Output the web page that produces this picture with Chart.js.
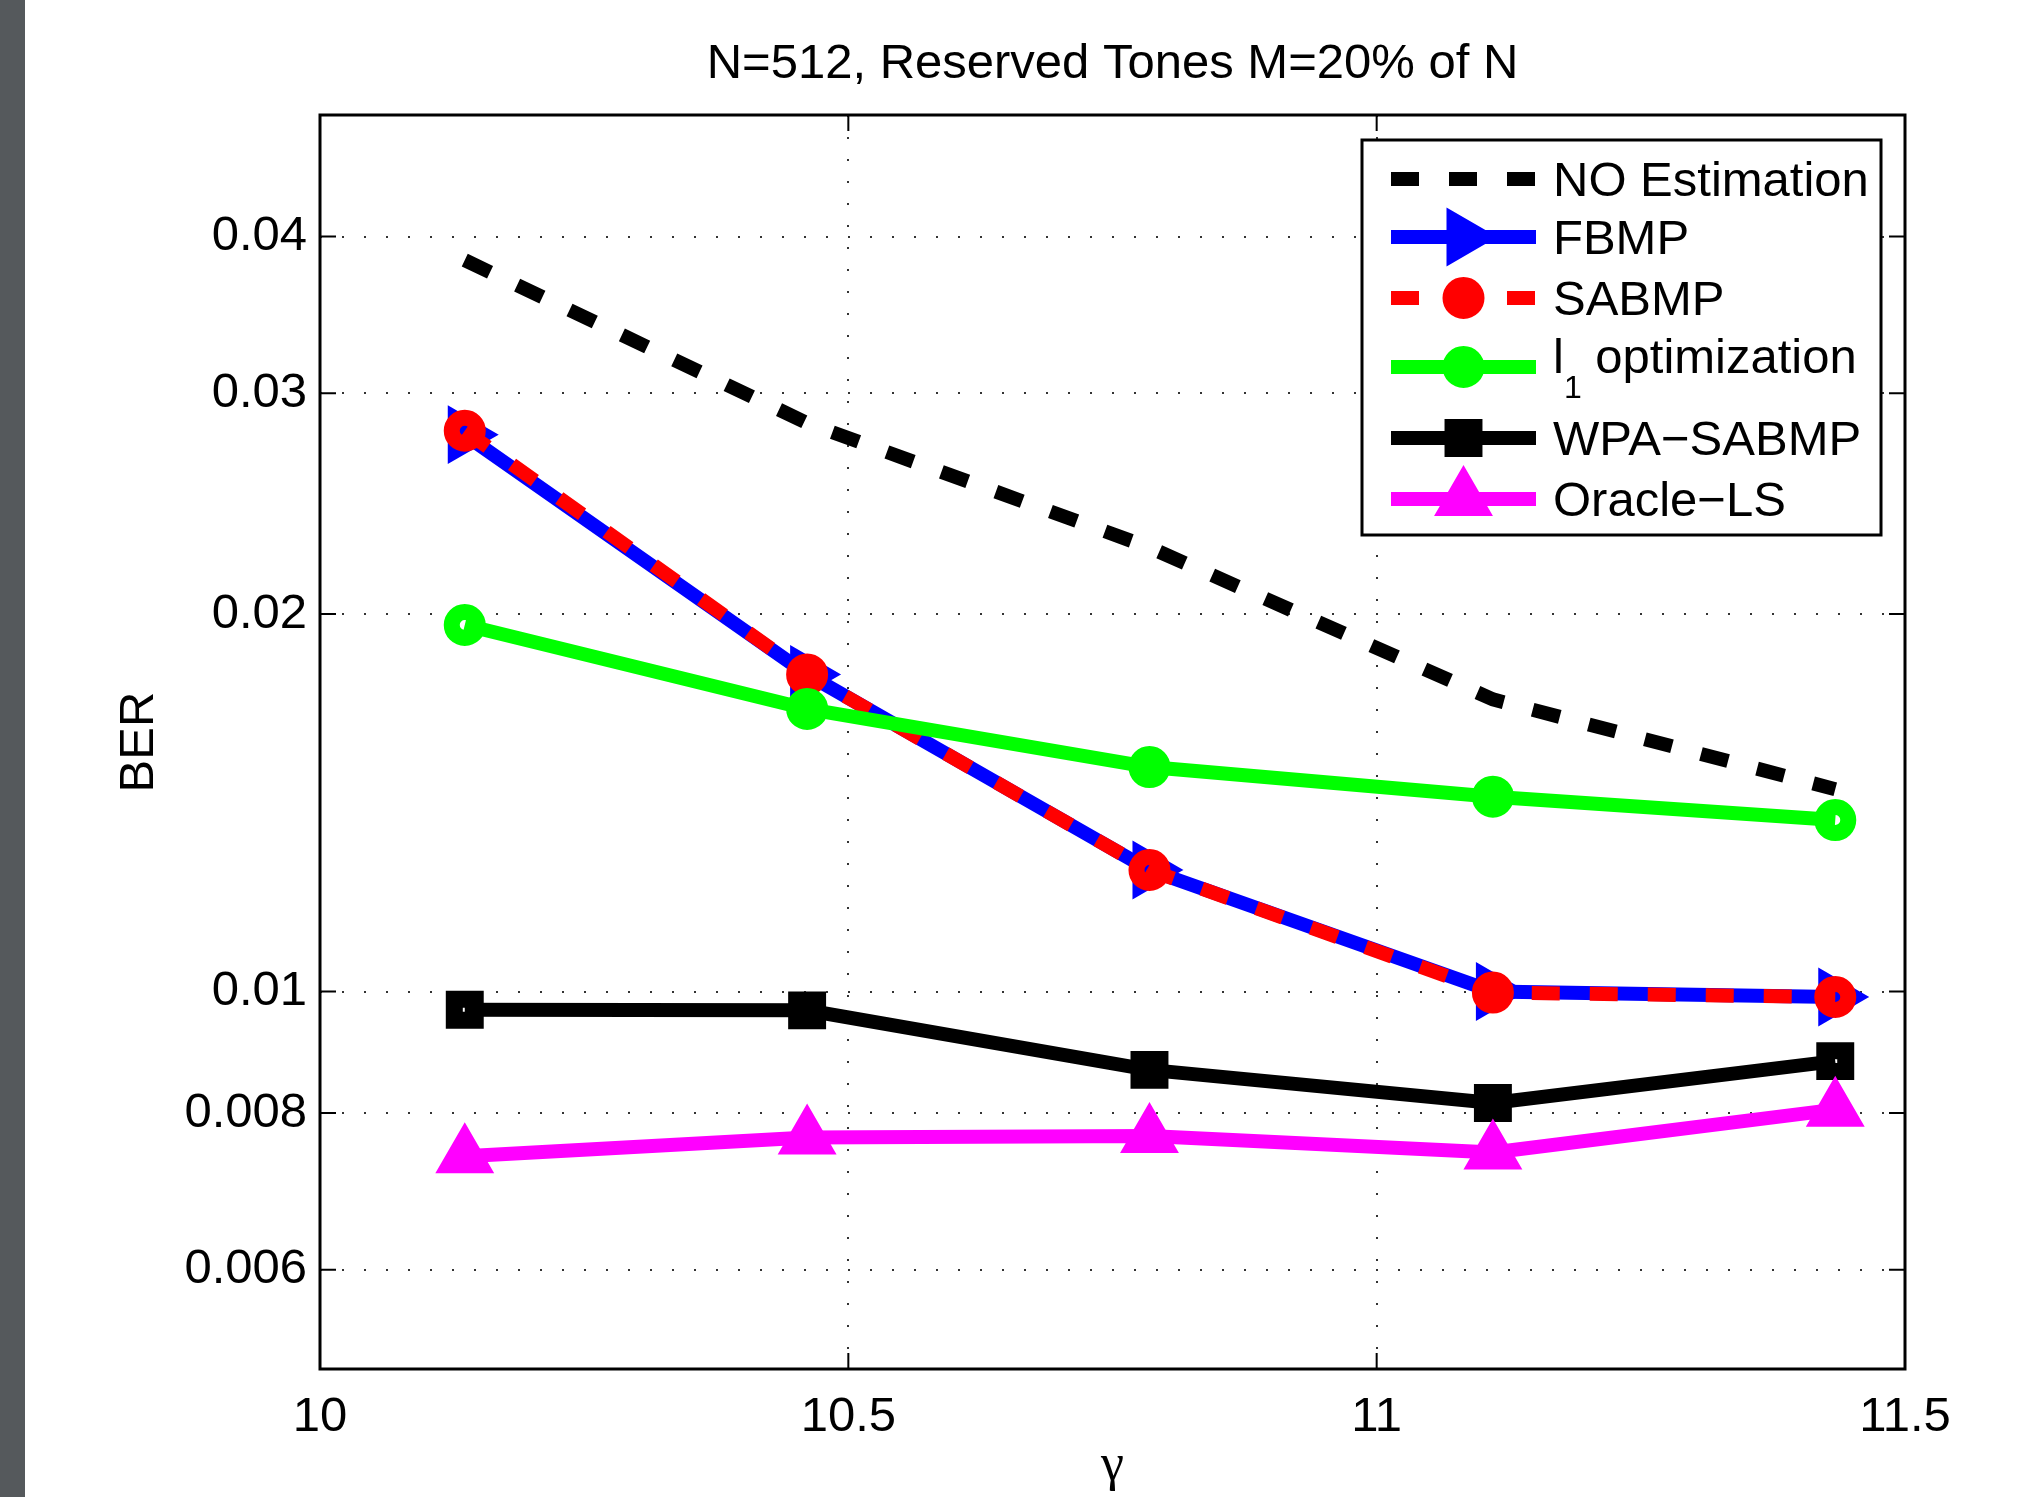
<!DOCTYPE html>
<html>
<head>
<meta charset="utf-8">
<script src="https://cdn.jsdelivr.net/npm/chart.js@4.4.1/dist/chart.umd.min.js"></script>
<style>
  html, body { margin: 0; padding: 0; }
  body {
    width: 2031px; height: 1497px; overflow: hidden;
    background: linear-gradient(to right, #55595c 0, #55595c 25px, #ffffff 25px);
  }
  #c { display: block; }
</style>
</head>
<body>
<canvas id="c" width="2031" height="1497"></canvas>
<script>
// values
const gamma = [10.137, 10.461, 10.785, 11.110, 11.434];
const noEstimation = [0.0383, 0.0284, 0.0226, 0.0171, 0.0145];
const fbmp = [0.0278, 0.0179, 0.0125, 0.0100, 0.0099];
const sabmp = [0.0280, 0.0179, 0.0125, 0.00998, 0.0099];
const l1opt = [0.0196, 0.0168, 0.0151, 0.0143, 0.0137];
const wpaSabmp = [0.00967, 0.00966, 0.00866, 0.00815, 0.0088];
const oracleLs = [0.00739, 0.00765, 0.00767, 0.00744, 0.00805];

const seriesNames = ['NO Estimation', 'FBMP', 'SABMP', 'l_1 optimization', 'WPA\u2212SABMP', 'Oracle\u2212LS'];
const xTicks = [10, 10.5, 11, 11.5];
const yTicks = [0.006, 0.008, 0.01, 0.02, 0.03, 0.04];
const chartTitle = 'N=512, Reserved Tones M=20% of N';
const xTitle = '\u03b3';
const yTitle = 'BER';

const FONT = '"Liberation Sans", Arial, Helvetica, sans-serif';
const FS = 49;
const DASH = [28, 30];

function pts(ys) {
  return gamma.map((g, i) => ({ x: g, y: ys[i] }));
}

function series(i, ys, color, extra) {
  return Object.assign({
    label: seriesNames[i],
    data: pts(ys),
    order: 5 - i,
    borderColor: color,
    backgroundColor: color,
    borderWidth: 14,
    borderCapStyle: 'butt',
    borderJoinStyle: 'miter',
    tension: 0,
    pointRadius: 0,
    pointBorderColor: color,
    pointBackgroundColor: color
  }, extra);
}

const ring = { pointStyle: 'circle', pointRadius: 13, pointHoverRadius: 13, pointBorderWidth: 16, pointBackgroundColor: 'rgba(0,0,0,0)' };

const datasets = [
  series(0, noEstimation, '#000000', { borderDash: DASH }),
  series(1, fbmp, '#0000ff', { pointStyle: 'triangle', pointRotation: 90, pointRadius: 32, pointHoverRadius: 32, pointBorderWidth: 2 }),
  series(2, sabmp, '#ff0000', Object.assign({ borderDash: DASH }, ring)),
  series(3, l1opt, '#00ff00', Object.assign({}, ring)),
  series(4, wpaSabmp, '#000000', { pointStyle: 'rect', pointRadius: 14.8, pointHoverRadius: 14.8, pointBorderWidth: 17, pointBackgroundColor: 'rgba(0,0,0,0)' }),
  series(5, oracleLs, '#ff00ff', { pointStyle: 'triangle', pointRadius: 32, pointHoverRadius: 32, pointBorderWidth: 2 })
];

// frame, inward ticks and titles (MATLAB style)
const framePlugin = {
  id: 'frame',
  afterDatasetsDraw(chart) {
    const { ctx, chartArea: a, scales } = chart;
    const t = 16;
    ctx.save();
    ctx.setLineDash([]);
    ctx.strokeStyle = '#000';
    ctx.lineWidth = 2;
    ctx.beginPath();
    scales.x.ticks.forEach(tk => {
      const px = scales.x.getPixelForValue(tk.value);
      ctx.moveTo(px, a.bottom); ctx.lineTo(px, a.bottom - t);
      ctx.moveTo(px, a.top); ctx.lineTo(px, a.top + t);
    });
    scales.y.ticks.forEach(tk => {
      const py = scales.y.getPixelForValue(tk.value);
      ctx.moveTo(a.left, py); ctx.lineTo(a.left + t, py);
      ctx.moveTo(a.right, py); ctx.lineTo(a.right - t, py);
    });
    ctx.stroke();
    ctx.lineWidth = 3;
    ctx.strokeRect(a.left, a.top, a.right - a.left, a.bottom - a.top);

    ctx.fillStyle = '#000';
    ctx.textAlign = 'center';
    ctx.textBaseline = 'alphabetic';
    ctx.font = FS + 'px ' + FONT;
    ctx.fillText(chartTitle, (a.left + a.right) / 2, 78);
    ctx.font = '52px "Liberation Serif", "DejaVu Serif", serif';
    ctx.fillText(xTitle, (a.left + a.right) / 2, 1480);
    ctx.font = FS + 'px ' + FONT;
    ctx.translate(153, (a.top + a.bottom) / 2);
    ctx.rotate(-Math.PI / 2);
    ctx.fillText(yTitle, 0, 0);
    ctx.restore();
  }
};

// MATLAB-like legend box with line samples and markers
const legendPlugin = {
  id: 'matlabLegend',
  afterDraw(chart) {
    const { ctx } = chart;
    const box = { left: 1362, top: 140, right: 1881, bottom: 535 };
    const rows = [179, 237, 298, 367, 438, 499];
    const x0 = 1391, x1 = 1536, tx = 1553;
    ctx.save();
    ctx.fillStyle = '#fff';
    ctx.fillRect(box.left, box.top, box.right - box.left, box.bottom - box.top);
    ctx.strokeStyle = '#000';
    ctx.lineWidth = 3;
    ctx.setLineDash([]);
    ctx.strokeRect(box.left, box.top, box.right - box.left, box.bottom - box.top);

    chart.data.datasets.forEach((ds, i) => {
      const y = rows[i];
      ctx.save();
      ctx.strokeStyle = ds.borderColor;
      ctx.lineWidth = ds.borderWidth;
      ctx.lineCap = 'butt';
      ctx.setLineDash(ds.borderDash || []);
      ctx.beginPath();
      ctx.moveTo(x0, y); ctx.lineTo(x1, y);
      ctx.stroke();
      if (ds.pointRadius > 0) {
        ctx.setLineDash([]);
        ctx.fillStyle = ds.pointBackgroundColor;
        ctx.strokeStyle = ds.pointBorderColor;
        ctx.lineWidth = ds.pointBorderWidth;
        Chart.helpers.drawPoint(ctx, {
          pointStyle: ds.pointStyle,
          rotation: ds.pointRotation || 0,
          radius: ds.pointRadius,
          borderWidth: ds.pointBorderWidth
        }, (x0 + x1) / 2, y);
      }
      ctx.restore();

      ctx.fillStyle = '#000';
      ctx.textAlign = 'left';
      ctx.textBaseline = 'alphabetic';
      ctx.font = FS + 'px ' + FONT;
      const m = ds.label.match(/^(.*)_(\w)(.*)$/);
      if (m) {
        const base = y + 6;
        ctx.fillText(m[1], tx, base);
        const w = ctx.measureText(m[1]).width;
        ctx.font = '32px ' + FONT;
        ctx.fillText(m[2], tx + w, base + 25);
        const w2 = ctx.measureText(m[2]).width;
        ctx.font = FS + 'px ' + FONT;
        ctx.fillText(m[3], tx + w + w2, base);
      } else {
        ctx.fillText(ds.label, tx, y + 17);
      }
    });
    ctx.restore();
  }
};

const tickFont = { family: FONT, size: FS };

new Chart(document.getElementById('c'), {
  type: 'line',
  data: { datasets: datasets },
  options: {
    responsive: false,
    animation: false,
    devicePixelRatio: 1,
    events: [],
    layout: { padding: { left: 0, top: 115, right: 126, bottom: 0 } },
    scales: {
      x: {
        type: 'linear',
        min: 10,
        max: 11.5,
        afterBuildTicks: s => { s.ticks = xTicks.map(v => ({ value: v })); },
        afterFit: s => { s.height = 128; },
        ticks: { font: tickFont, color: '#000', padding: 19, maxRotation: 0, autoSkip: false, callback: v => String(v) },
        grid: { color: '#333', lineWidth: 2, drawTicks: false },
        border: { display: false, dash: [2, 20] }
      },
      y: {
        type: 'logarithmic',
        min: 0.005,
        max: 0.05,
        afterBuildTicks: s => { s.ticks = yTicks.map(v => ({ value: v })); },
        afterFit: s => { s.width = 320; },
        ticks: { font: tickFont, color: '#000', padding: 13, autoSkip: false, callback: v => String(v) },
        grid: { color: '#333', lineWidth: 2, drawTicks: false },
        border: { display: false, dash: [2, 20] }
      }
    },
    plugins: {
      legend: { display: false },
      tooltip: { enabled: false },
      title: { display: false }
    }
  },
  plugins: [framePlugin, legendPlugin]
});
</script>
</body>
</html>
